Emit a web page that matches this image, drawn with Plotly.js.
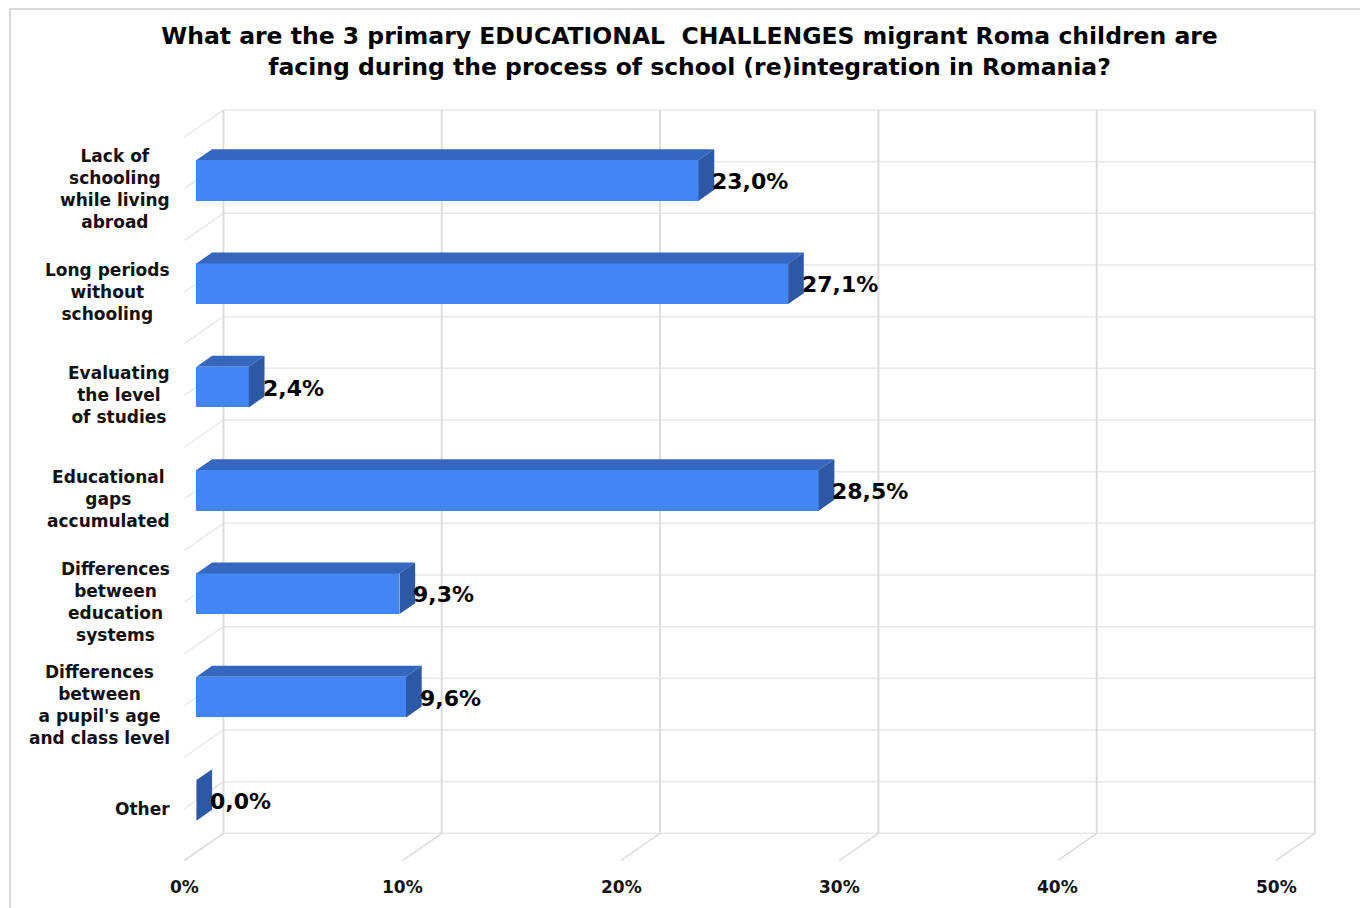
<!DOCTYPE html>
<html>
<head>
<meta charset="utf-8">
<script src="https://cdn.plot.ly/plotly-3.0.1.min.js"></script>
<style>
  html, body { margin: 0; padding: 0; background: #ffffff; }
  #wrap { position: relative; width: 1360px; height: 908px; }
  #chart { width: 1360px; height: 908px; }
  #frame { position: absolute; left: 9px; top: 8px; width: 1360px; height: 908px;
           border-left: 2px solid #d9d9d9; border-top: 2px solid #d9d9d9; pointer-events: none; }
</style>
</head>
<body>
<div id="wrap"><div id="chart"></div><div id="frame"></div></div>
<script>
// ---- data ----
const categories = [
  "Lack of<br>schooling<br>while living<br>abroad",
  "Long periods<br>without<br>schooling",
  "Evaluating<br>the level<br>of studies",
  "Educational<br>gaps<br>accumulated",
  "Differences<br>between<br>education<br>systems",
  "Differences<br>between<br>a pupil's age<br>and class level",
  "Other"
];
const values = [23.0, 27.1, 2.4, 28.5, 9.3, 9.6, 0.0];
const valueLabels = ["23,0%", "27,1%", "2,4%", "28,5%", "9,3%", "9,6%", "0,0%"];
const tickValues = [0, 10, 20, 30, 40, 50];
const tickLabels = ["0%", "10%", "20%", "30%", "40%", "50%"];
const chartTitle = "What are the 3 primary EDUCATIONAL&nbsp; CHALLENGES migrant Roma children are<br>facing during the process of school (re)integration in Romania?";

// ---- 3D projection settings (oblique) ----
const dxD = -1.786;   // full floor depth, x (percent units)
const dyD = 0.262;    // full floor depth, y (category units)
const fFront = 0.692; // bar front face depth fraction
const fBack = 0.29;   // bar back face depth fraction
const barH = 0.394;   // bar thickness (category units)
const nCat = categories.length;

const FONT = "DejaVu Sans, Liberation Sans, Arial, sans-serif";
const cFront = "#4285f4", cTop = "#3467bd", cSide = "#2c58a6";
const gridV = "#dcdcdc", gridH = "#e9e9e9";

// bar front faces
const yFront = categories.map((c, i) => i + 0.5 + fFront * dyD);
const baseFront = fFront * dxD;
const ddx = (fBack - fFront) * dxD, ddy = (fBack - fFront) * dyD;

const frontTrace = {
  type: "bar", orientation: "h",
  x: values, y: yFront, base: values.map(() => baseFront),
  width: barH, marker: { color: cFront, line: { width: 0 } },
  hoverinfo: "skip", showlegend: false
};

// top and side faces as filled polygons
const topX = [], topY = [], sideX = [], sideY = [];
values.forEach((v, i) => {
  const x0 = baseFront, x1 = baseFront + v;
  const yT = yFront[i] - barH / 2, yB = yFront[i] + barH / 2;
  topX.push(x0, x1, x1 + ddx, x0 + ddx, x0, null);
  topY.push(yT, yT, yT + ddy, yT + ddy, yT, null);
  sideX.push(x1, x1, x1 + ddx, x1 + ddx, x1, null);
  sideY.push(yT, yB, yB + ddy, yT + ddy, yT, null);
});
const topTrace = { type: "scatter", mode: "lines", x: topX, y: topY, fill: "toself",
  fillcolor: cTop, line: { width: 0, color: cTop }, hoverinfo: "skip", showlegend: false };
const sideTrace = { type: "scatter", mode: "lines", x: sideX, y: sideY, fill: "toself",
  fillcolor: cSide, line: { width: 0, color: cSide }, hoverinfo: "skip", showlegend: false };

// ---- gridlines (back wall, left wall, floor) ----
const shapes = [];
for (let k = 0; k <= 2 * nCat; k++) {
  const y = k / 2;
  shapes.push({ type: "line", layer: "below", x0: 0, x1: 50, y0: y, y1: y, line: { color: gridH, width: 1.5 } });
  shapes.push({ type: "line", layer: "below", x0: 0, x1: dxD, y0: y, y1: y + dyD, line: { color: gridH, width: 1.5 } });
}
tickValues.forEach(t => {
  shapes.push({ type: "line", layer: "below", x0: t, x1: t, y0: 0, y1: nCat, line: { color: gridV, width: 2 } });
  shapes.push({ type: "line", layer: "below", x0: t, x1: t + dxD, y0: nCat, y1: nCat + dyD, line: { color: gridV, width: 1.5 } });
});

// ---- annotations ----
const annotations = [];
categories.forEach((c, i) => {
  annotations.push({ x: dxD, y: i + 0.5 + dyD, xref: "x", yref: "y", text: c, showarrow: false,
    xanchor: "right", yanchor: "middle", align: "center", xshift: -12,
    font: { family: FONT, size: 17, color: "#111111", weight: "bold" } });
  annotations.push({ x: values[i] + fBack * dxD, y: yFront[i], xref: "x", yref: "y", text: valueLabels[i],
    showarrow: false, xanchor: "left", yanchor: "middle", xshift: -4, yshift: -1,
    font: { family: FONT, size: 22, color: "#000000", weight: "bold" } });
});
tickValues.forEach((t, j) => {
  annotations.push({ x: t + dxD, y: nCat + dyD, xref: "x", yref: "y", text: tickLabels[j], showarrow: false,
    xanchor: "center", yanchor: "top", yshift: -15,
    font: { family: FONT, size: 17, color: "#111111", weight: "bold" } });
});

const xr = [-3.5, 50.5], yr = [7.5, -0.3];
const pxPerX = 21.84, pxPerY = 103.36;
const layout = {
  width: 1360, height: 908,
  margin: { l: 223 + xr[0] * pxPerX, r: 1360 - (223 + xr[1] * pxPerX),
            t: 110 + yr[1] * pxPerY, b: 908 - (110 + yr[0] * pxPerY), pad: 0 },
  paper_bgcolor: "#ffffff", plot_bgcolor: "#ffffff",
  title: { text: chartTitle, x: 0.507, xref: "container", xanchor: "center",
           y: 1 - 44 / 908, yref: "container", yanchor: "top",
           font: { family: FONT, size: 23.5, color: "#000000", weight: "bold" } },
  xaxis: { range: xr, showgrid: false, zeroline: false, showticklabels: false, showline: false, fixedrange: true },
  yaxis: { range: yr, showgrid: false, zeroline: false, showticklabels: false, showline: false, fixedrange: true },
  bargap: 0, showlegend: false,
  shapes: shapes, annotations: annotations
};

Plotly.newPlot("chart", [frontTrace, topTrace, sideTrace], layout, { displayModeBar: false, staticPlot: true });
</script>
</body>
</html>
